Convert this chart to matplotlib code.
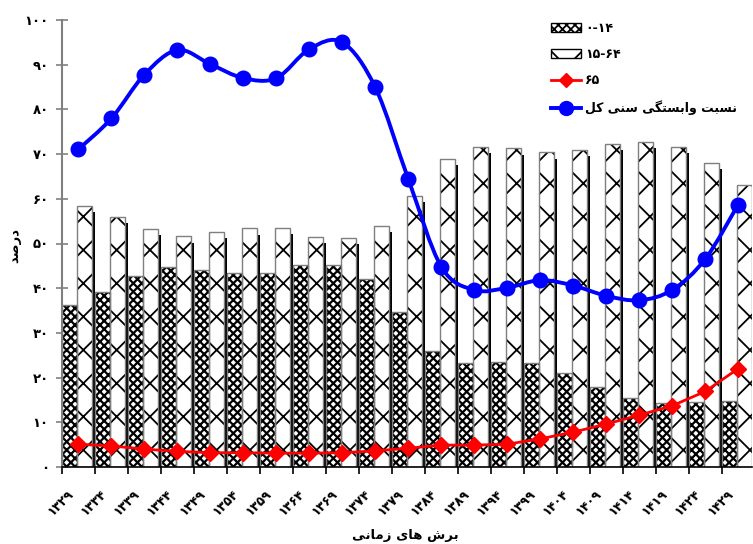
import matplotlib
matplotlib.use("Agg")
import matplotlib.pyplot as plt
from matplotlib.path import Path
from matplotlib.patches import PathPatch, Patch
from matplotlib.lines import Line2D
import matplotlib.transforms as mtransforms
import numpy as np

# ---------------- data ----------------
years = [1329, 1334, 1339, 1344, 1349, 1354, 1359, 1364, 1369, 1374, 1379,
         1384, 1389, 1394, 1399, 1404, 1409, 1414, 1419, 1424, 1429]
age_0_14 = [36.2, 39.1, 42.7, 44.7, 44.0, 43.3, 43.5, 45.3, 45.3, 42.1, 34.7,
            26.0, 23.3, 23.6, 23.2, 21.0, 17.9, 15.4, 14.4, 14.6, 14.8]
age_15_64 = [58.4, 56.0, 53.2, 51.6, 52.6, 53.4, 53.5, 51.5, 51.2, 53.9, 60.7,
             68.9, 71.6, 71.3, 70.4, 71.0, 72.3, 72.8, 71.6, 68.1, 63.0]
age_65 = [5.1, 4.7, 4.0, 3.5, 3.2, 3.2, 3.1, 3.1, 3.2, 3.6, 4.2,
          4.9, 4.9, 5.1, 6.3, 7.8, 9.6, 11.6, 13.7, 16.9, 22.0]
total_dep = [71.1, 78.0, 87.8, 93.3, 90.1, 87.0, 87.0, 93.5, 95.0, 84.9, 64.4,
             44.8, 39.6, 40.1, 41.8, 40.6, 38.3, 37.3, 39.6, 46.5, 58.7]
y_ticks = [0, 10, 20, 30, 40, 50, 60, 70, 80, 90, 100]

label_0_14 = "0-14"
label_15_64 = "15-64"
label_65 = "65"
label_total = "نسبت وابستگی سنی کل"
x_title = "برش های زمانی"
y_title = "درصد"

# ---------------- Persian text helpers ----------------
FA_DIGITS = str.maketrans("0123456789", "۰۱۲۳۴۵۶۷۸۹")


def fa_num(s):
    return str(s).translate(FA_DIGITS)


FORMS = {
    'ا': ('\uFE8D', '\uFE8E', None, None),
    'ب': ('\uFE8F', '\uFE90', '\uFE91', '\uFE92'),
    'ت': ('\uFE95', '\uFE96', '\uFE97', '\uFE98'),
    'د': ('\uFEA9', '\uFEAA', None, None),
    'ر': ('\uFEAD', '\uFEAE', None, None),
    'ز': ('\uFEAF', '\uFEB0', None, None),
    'س': ('\uFEB1', '\uFEB2', '\uFEB3', '\uFEB4'),
    'ش': ('\uFEB5', '\uFEB6', '\uFEB7', '\uFEB8'),
    'ص': ('\uFEB9', '\uFEBA', '\uFEBB', '\uFEBC'),
    'ل': ('\uFEDD', '\uFEDE', '\uFEDF', '\uFEE0'),
    'م': ('\uFEE1', '\uFEE2', '\uFEE3', '\uFEE4'),
    'ن': ('\uFEE5', '\uFEE6', '\uFEE7', '\uFEE8'),
    'ه': ('\uFEE9', '\uFEEA', '\uFEEB', '\uFEEC'),
    'و': ('\uFEED', '\uFEEE', None, None),
    'ی': ('\uFBFC', '\uFBFD', '\uFBFE', '\uFBFF'),
    'ک': ('\uFB8E', '\uFB8F', '\uFB90', '\uFB91'),
    'گ': ('\uFB92', '\uFB93', '\uFB94', '\uFB95'),
}


def fa(text):
    chars = list(text)
    out = []
    for i, c in enumerate(chars):
        if c not in FORMS:
            out.append(c)
            continue
        prev = chars[i - 1] if i > 0 else None
        nxt = chars[i + 1] if i + 1 < len(chars) else None
        jp = prev in FORMS and FORMS[prev][2] is not None
        jn = nxt in FORMS and FORMS[c][2] is not None
        iso, fin, ini, med = FORMS[c]
        if jp and jn:
            out.append(med)
        elif jp:
            out.append(fin)
        elif jn:
            out.append(ini)
        else:
            out.append(iso)
    return "".join(reversed(out))


def set_hlw(container, lw):
    for p in container:
        if hasattr(p, 'set_hatch_linewidth'):
            p.set_hatch_linewidth(lw)


# ---------------- figure ----------------
plt.rcParams['font.family'] = ['DejaVu Sans']
plt.rcParams['hatch.linewidth'] = 1.3

fig = plt.figure(figsize=(7.53, 5.44), dpi=100)
ax = fig.add_axes([62 / 753, 1 - 467 / 544, (752 - 62) / 753, (467 - 20) / 544])

n = len(years)
x = np.arange(n)
bw = 0.46
left = x - 0.5
sh_dx = 0.08
sh_dy = 0.7

# shadows
ax.bar(left + bw + sh_dx, np.array(age_15_64) - sh_dy, width=bw, bottom=-sh_dy,
       align='edge', color='black', edgecolor='none', zorder=1)
ax.bar(left + sh_dx, np.array(age_0_14) - sh_dy, width=bw, bottom=-sh_dy,
       align='edge', color='black', edgecolor='none', zorder=1)

# white fills
ax.bar(left, age_0_14, width=bw, align='edge', color='white', edgecolor='none', zorder=2)
ax.bar(left + bw, age_15_64, width=bw, align='edge', color='white', edgecolor='none', zorder=2)
# black hatches
b1 = ax.bar(left, age_0_14, width=bw, align='edge', color='none', edgecolor='black',
            hatch='xxxx', linewidth=0, zorder=2.1)
set_hlw(b1, 1.6)
b2 = ax.bar(left + bw, age_15_64, width=bw, align='edge', color='none', edgecolor='black',
            hatch='x', linewidth=0, zorder=2.1)
set_hlw(b2, 1.3)
# grey outlines
ax.bar(left, age_0_14, width=bw, align='edge', color='none', edgecolor='#7f7f7f',
       linewidth=1.0, zorder=2.2)
ax.bar(left + bw, age_15_64, width=bw, align='edge', color='none', edgecolor='#7f7f7f',
       linewidth=1.0, zorder=2.2)

# red line (65+)
ax.plot(x, age_65, color='#ff0000', lw=2.0, marker='D', ms=8, mec='#ff0000',
        mfc='#ff0000', zorder=4, solid_joinstyle='round')

# blue smoothed line (total dependency)
pts = np.column_stack([x, total_dep]).astype(float)
verts = [tuple(pts[0])]
codes = [Path.MOVETO]
for i in range(n - 1):
    p0 = pts[i - 1] if i > 0 else pts[i]
    p1 = pts[i]
    p2 = pts[i + 1]
    p3 = pts[i + 2] if i + 2 < n else pts[i + 1]
    c1 = p1 + (p2 - p0) / 6.0
    c2 = p2 - (p3 - p1) / 6.0
    verts += [tuple(c1), tuple(c2), tuple(p2)]
    codes += [Path.CURVE4] * 3
ax.add_patch(PathPatch(Path(verts, codes), facecolor='none', edgecolor='#0000ff',
                       lw=2.8, zorder=5, capstyle='round', joinstyle='round'))
ax.plot(x, total_dep, linestyle='none', marker='o', ms=10.5, color='#0000ff', zorder=6)

# axes
ax.set_xlim(-0.5, 20.42)
ax.set_ylim(0, 100)
for s in ['top', 'right']:
    ax.spines[s].set_visible(False)
ax.spines['left'].set_color('#808080')
ax.spines['left'].set_linewidth(1.5)
ax.spines['bottom'].set_color('black')
ax.spines['bottom'].set_linewidth(1.2)

ax.set_yticks(y_ticks)
ax.set_yticklabels([fa_num(v) for v in y_ticks], fontsize=9.5, fontweight='bold')
ax.tick_params(axis='y', direction='inout', length=9, width=1.2, color='#808080', pad=5)

ax.set_xticks(left)
ax.set_xticklabels([fa_num(y) for y in years], fontsize=9, fontweight='bold',
                   rotation=45, ha='right', rotation_mode='anchor')
ax.tick_params(axis='x', direction='out', length=5, width=1.2, color='black', pad=10)
off = mtransforms.ScaledTranslation(5 / 100, 0, fig.dpi_scale_trans)
for lab in ax.get_xticklabels():
    lab.set_transform(lab.get_transform() + off)

fig.text(405 / 753, 1 - 535 / 544, fa(x_title), ha='center', va='center',
         fontsize=9.5, fontweight='bold')
fig.text(15 / 753, 1 - 245 / 544, fa(y_title), ha='center', va='center',
         rotation=90, fontsize=9.5, fontweight='bold')

hp1 = Patch(facecolor='white', edgecolor='black', hatch='xxxx', linewidth=1.0)
hp2 = Patch(facecolor='white', edgecolor='black', hatch='x', linewidth=1.0)
handles = [
    hp1, hp2,
    Line2D([], [], color='#ff0000', lw=2.0, marker='D', ms=7),
    Line2D([], [], color='#0000ff', lw=2.8, marker='o', ms=10),
]
labels = [fa_num(label_0_14), fa_num(label_15_64), fa_num(label_65), fa(label_total)]
leg = fig.legend(handles, labels, loc='upper left', bbox_to_anchor=(551 / 753, 1 - 22 / 544),
                 frameon=False, prop={'weight': 'bold', 'size': 9},
                 handlelength=2.4, handleheight=0.7, labelspacing=1.05, handletextpad=0.3,
                 borderaxespad=0, borderpad=0)

fig.savefig("out.png", dpi=100)
